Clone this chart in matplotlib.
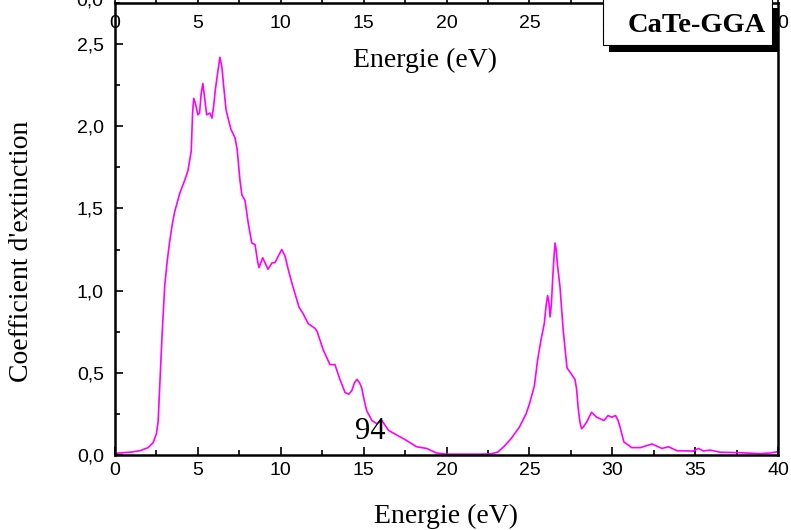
"""Extinction coefficient of CaTe (GGA) versus photon energy."""
import matplotlib
matplotlib.use('Agg')
import matplotlib.pyplot as plt
import matplotlib.patches as patches
from matplotlib.ticker import MultipleLocator

# Spectrum read from the calculation output
energy = [0.0, 0.5, 1.0, 1.5, 2.0, 2.3, 2.5, 2.6, 2.7, 2.85,
          3.0, 3.15, 3.3, 3.45, 3.6, 3.9, 4.2, 4.4, 4.6, 4.68,
          4.75, 4.85, 5.0, 5.1, 5.2, 5.3, 5.4, 5.53, 5.73, 5.85,
          5.95, 6.05, 6.2, 6.33, 6.45, 6.55, 6.7, 6.82, 7.0, 7.24,
          7.37, 7.54, 7.66, 7.84, 8.04, 8.25, 8.45, 8.6, 8.69, 8.8,
          8.91, 9.05, 9.23, 9.48, 9.65, 9.85, 10.06, 10.26, 10.45, 10.66,
          11.1, 11.35, 11.65, 12.07, 12.2, 12.56, 12.97, 13.27, 13.57, 13.88,
          14.1, 14.28, 14.45, 14.6, 14.75, 14.88, 15.0, 15.18, 15.5, 15.8,
          16.1, 16.5, 17.2, 17.4, 18.2, 18.8, 19.4, 20.0, 21.0, 22.0,
          22.7, 23.1, 23.5, 23.9, 24.4, 24.8, 25.0, 25.3, 25.5, 25.7,
          25.9, 26.0, 26.1, 26.18, 26.25, 26.33, 26.4, 26.48, 26.55, 26.62,
          26.68, 26.85, 27.04, 27.27, 27.55, 27.75, 27.85, 27.94, 28.05, 28.15,
          28.25, 28.45, 28.75, 29.06, 29.5, 29.75, 29.97, 30.2, 30.35, 30.47,
          30.7, 31.17, 31.7, 32.4, 33.0, 33.4, 33.9, 34.9, 35.2, 35.5,
          35.9, 36.5, 37.7, 38.9, 39.5, 40.0]
kappa = [0.010, 0.014, 0.018, 0.026, 0.045, 0.075, 0.13, 0.20, 0.42, 0.75,
         1.03, 1.18, 1.30, 1.40, 1.48, 1.59, 1.67, 1.73, 1.85, 2.08,
         2.17, 2.14, 2.07, 2.08, 2.20, 2.26, 2.18, 2.07, 2.08, 2.05,
         2.12, 2.22, 2.33, 2.42, 2.36, 2.25, 2.10, 2.05, 1.98, 1.93,
         1.86, 1.67, 1.58, 1.55, 1.41, 1.29, 1.28, 1.18, 1.14, 1.17,
         1.20, 1.17, 1.13, 1.17, 1.17, 1.21, 1.25, 1.21, 1.13, 1.05,
         0.90, 0.86, 0.80, 0.77, 0.75, 0.64, 0.55, 0.55, 0.46, 0.38,
         0.37, 0.39, 0.44, 0.46, 0.44, 0.41, 0.35, 0.27, 0.21, 0.19,
         0.21, 0.15, 0.11, 0.10, 0.05, 0.04, 0.012, 0.005, 0.005, 0.005,
         0.007, 0.018, 0.055, 0.10, 0.17, 0.25, 0.31, 0.42, 0.58, 0.70,
         0.80, 0.90, 0.97, 0.93, 0.84, 0.92, 1.06, 1.20, 1.29, 1.25,
         1.17, 1.02, 0.76, 0.53, 0.49, 0.46, 0.40, 0.29, 0.20, 0.16,
         0.17, 0.20, 0.26, 0.23, 0.21, 0.24, 0.23, 0.24, 0.21, 0.17,
         0.08, 0.045, 0.045, 0.067, 0.04, 0.05, 0.026, 0.024, 0.04, 0.024,
         0.03, 0.017, 0.014, 0.008, 0.012, 0.02]

y_ticks = [0.0, 0.5, 1.0, 1.5, 2.0, 2.5]
y_tick_labels = ['0,0', '0,5', '1,0', '1,5', '2,0', '2,5']
x_ticks = [0, 5, 10, 15, 20, 25, 30, 35, 40]

W, H = 791, 530
fig = plt.figure(figsize=(W / 100, H / 100), dpi=100)
ax = fig.add_axes([115 / W, 75 / H, 663 / W, 452 / H])

ax.plot(energy, kappa, color='#FF00FF', lw=1.2)

ax.set_xlim(0, 40)
ax.set_ylim(0, 2.75)
ax.set_xticks(x_ticks)
ax.xaxis.set_minor_locator(MultipleLocator(2.5))
ax.set_yticks(y_ticks)
ax.set_yticklabels(y_tick_labels)
ax.yaxis.set_minor_locator(MultipleLocator(0.25))

for side in ['left', 'bottom', 'top', 'right']:
    ax.spines[side].set_linewidth(1.8)

ax.tick_params(which='both', direction='in', width=1.2, top=False, right=False,
               labelsize=14, labelfontfamily='Liberation Sans')
ax.tick_params(which='major', length=6, pad=5)
ax.tick_params(which='minor', length=3.5)
ax.tick_params(axis='y', pad=8)

# top energy scale, labels sitting inside the frame
top = ax.secondary_xaxis('top')
top.set_xticks(x_ticks)
top.xaxis.set_minor_locator(MultipleLocator(2.5))
top.tick_params(which='both', direction='out', width=1.2, length=4,
                labelsize=14, labelfontfamily='Liberation Sans', pad=-25)

ax.set_xlabel('Energie (eV)', fontsize=20, family='Liberation Serif', labelpad=18)
ax.set_ylabel("Coefficient d'extinction", fontsize=20, family='Liberation Serif')
ax.yaxis.set_label_coords(-0.122, 0.45)
ax.text(0.468, 0.874, 'Energie (eV)', transform=ax.transAxes, fontsize=20,
        family='Liberation Serif', ha='center', va='center')
ax.text(15.4, 0.14, '94', fontsize=22, family='Liberation Serif',
        ha='center', va='center')

# leftover label of the panel above
fig.text(90 / W, 1 - 1 / H, '0,0', fontsize=14, family='Liberation Sans',
         ha='center', va='center')


def px_rect(x0, y0, x1, y1, **kw):
    return patches.Rectangle((x0 / W, 1 - y1 / H), (x1 - x0) / W, (y1 - y0) / H,
                             transform=fig.transFigure, **kw)


# title box with drop shadow
fig.patches.append(px_rect(609, 8, 778, 52, facecolor='black', edgecolor='none', zorder=5))
fig.patches.append(px_rect(603, -3, 772, 45, facecolor='white', edgecolor='black',
                           lw=0.8, zorder=6))
fig.text(697 / W, 1 - 25 / H, 'CaTe-GGA', fontsize=20.5, fontweight='bold',
         family='Liberation Serif', ha='center', va='center', zorder=7)

fig.savefig('out.png', dpi=100)
